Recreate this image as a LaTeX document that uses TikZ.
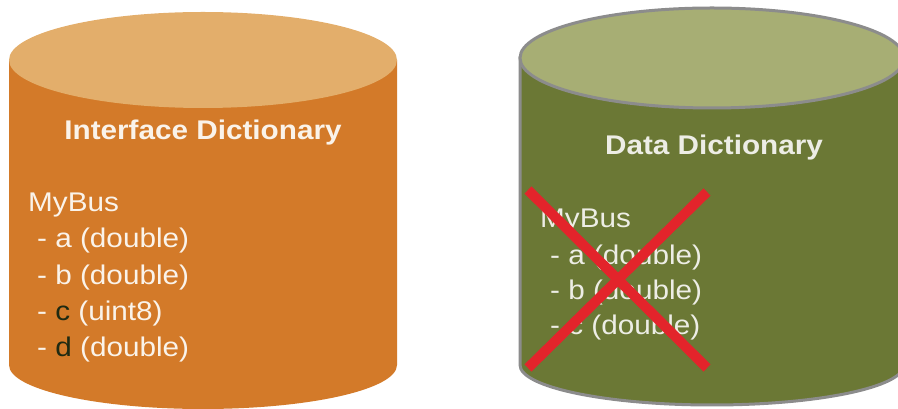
\documentclass[tikz,border=0pt]{standalone}
\usepackage{fontspec}
\setmainfont[FakeStretch=1.1]{Liberation Sans}
\definecolor{orbody}{HTML}{D37A29}
\definecolor{ortop}{HTML}{E3AE6B}
\definecolor{grbody}{HTML}{6B7835}
\definecolor{grtop}{HTML}{A7AE74}
\definecolor{grline}{HTML}{8C8C8C}
\definecolor{xred}{HTML}{E3242B}
\definecolor{lighttxt}{HTML}{FAF3EA}
\definecolor{lighttxtg}{HTML}{EDEDE5}
\definecolor{darktxt}{HTML}{1E2A12}
\begin{document}
\begin{tikzpicture}[x=1pt,y=1pt,
  title/.style={font=\fontsize{27}{32}\selectfont\bfseries, anchor=base, inner sep=0pt},
  item/.style={font=\fontsize{27}{32}\selectfont, anchor=base west, inner sep=0pt},
  cross/.style={draw=xred, line width=10pt}]
\useasboundingbox (0,0) rectangle (898,409);
% left cylinder
\fill[orbody] (9,349) -- (9,44) arc[start angle=180,end angle=360,x radius=194,y radius=44] -- (397,349) -- cycle;
\fill[ortop] (203,349) ellipse[x radius=194,y radius=48];
% right cylinder
\filldraw[fill=grbody, draw=grline, line width=3pt] (520,351) -- (520,44) arc[start angle=180,end angle=360,x radius=192,y radius=40] -- (904,351) -- cycle;
\filldraw[fill=grtop, draw=grline, line width=3pt] (712,351) ellipse[x radius=192,y radius=50];
% left text
\node[title, text=lighttxt] (lt) at (203,269) {Interface Dictionary};
\node[item, text=lighttxt] (lm) at (28,197) {MyBus};
\node[item, text=lighttxt] (la) at (37,161) {- a (double)};
\node[item, text=lighttxt] (lb) at (37,124) {- b (double)};
\node[item, text=lighttxt] (lc) at (37,88) {- \textcolor{darktxt}{c} (uint8)};
\node[item, text=lighttxt] (ld) at (37,52) {- \textcolor{darktxt}{d} (double)};
% right text
\node[title, text=lighttxtg] (rt) at (714,254) {Data Dictionary};
\node[item, text=lighttxtg] (rm) at (540,181) {MyBus};
\node[item, text=lighttxtg] (ra) at (550,144) {- a (double)};
\node[item, text=lighttxtg] (rb) at (550,109) {- b (double)};
\node[item, text=lighttxtg] (rc) at (550,74) {- c (double)};
% red cross
\coordinate (x1) at (528,219);
\coordinate (x2) at (707,41);
\coordinate (x3) at (707,217);
\coordinate (x4) at (528,41);
\draw[cross] (x1) -- (x2);
\draw[cross] (x3) -- (x4);
\end{tikzpicture}
\end{document}
